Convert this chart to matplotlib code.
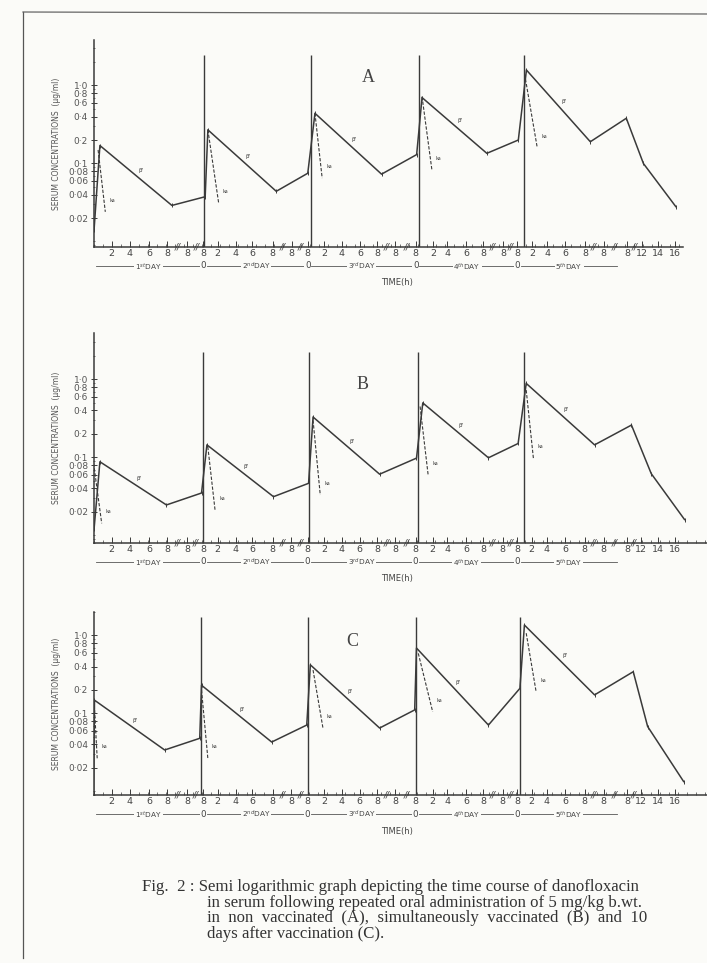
import matplotlib
matplotlib.use("Agg")
import matplotlib.pyplot as plt
import matplotlib.transforms as mtransforms
from matplotlib.ticker import FixedLocator, LogLocator, MultipleLocator, NullFormatter

# x values are positions on the broken time axis (about 11.7 units per dosing day)
x_A = [0.05, 0.7, 8.7, 12.4, 12.7, 20.3, 23.8, 24.6, 32.0, 35.9, 36.5, 43.7, 47.2, 48.1, 55.2, 59.2, 61.1, 64.7]
v_A = [0.014, 0.17, 0.029, 0.0375, 0.27, 0.044, 0.075, 0.44, 0.073, 0.13, 0.70, 0.135, 0.20, 1.58, 0.19, 0.38, 0.10, 0.028]

x_B = [0.05, 0.7, 8.1, 12.0, 12.6, 20.0, 23.9, 24.4, 31.8, 35.9, 36.6, 43.9, 47.2, 48.1, 55.7, 59.8, 62.0, 65.7]
v_B = [0.012, 0.088, 0.0246, 0.035, 0.145, 0.0314, 0.0466, 0.33, 0.061, 0.098, 0.50, 0.099, 0.151, 0.89, 0.145, 0.26, 0.062, 0.016]

x_C = [0.0, 0.1, 7.9, 11.8, 12.0, 19.8, 23.7, 24.1, 31.8, 35.7, 35.9, 43.9, 47.4, 47.9, 55.7, 60.0, 61.6, 65.6]
v_C = [0.0095, 0.148, 0.034, 0.048, 0.23, 0.043, 0.071, 0.42, 0.065, 0.111, 0.69, 0.071, 0.21, 1.36, 0.173, 0.343, 0.068, 0.0134]

# peak / trough indices of each elimination phase
peaks = [1, 4, 7, 10, 13]
troughs = [2, 5, 8, 11, 14]

# absorption (residual) lines, dashed
ka_A_x = [[0.5, 1.3], [12.7, 13.9], [24.6, 25.4], [36.5, 37.6], [47.9, 49.3]]
ka_A_v = [[0.149, 0.024], [0.27, 0.031], [0.44, 0.065], [0.72, 0.082], [1.4, 0.16]]
ka_B_x = [[0.0, 0.9], [12.7, 13.5], [24.4, 25.2], [36.3, 37.2], [48.1, 48.9]]
ka_B_v = [[0.084, 0.0143], [0.137, 0.0213], [0.30, 0.033], [0.45, 0.059], [0.73, 0.097]]
ka_C_x = [[0.05, 0.4], [12.0, 12.7], [24.4, 25.5], [36.1, 37.7], [48.1, 49.2]]
ka_C_v = [[0.148, 0.0266], [0.20, 0.0266], [0.36, 0.065], [0.59, 0.105], [1.07, 0.19]]

dose_A = [12.3, 24.2, 36.2, 47.8]
dose_B = [12.2, 24.0, 36.1, 47.9]
dose_C = [11.9, 23.8, 35.9, 47.4]

# time axis
tick_pos = [2.0, 4.0, 6.2, 8.2, 10.4, 12.2,
            13.8, 15.8, 17.6, 19.9, 22.0, 23.8,
            25.6, 27.6, 29.6, 31.5, 33.5, 35.8,
            37.7, 39.3, 41.4, 43.3, 45.5, 47.1,
            48.7, 50.4, 52.4, 54.6, 56.7, 59.3, 60.9, 62.7, 64.6]
tick_lab = ["2", "4", "6", "8", "8", "8",
            "2", "4", "6", "8", "8", "8",
            "2", "4", "6", "8", "8", "8",
            "2", "4", "6", "8", "8", "8",
            "2", "4", "6", "8", "8", "8", "12", "14", "16"]
breaks = [9.3, 11.4, 21.0, 23.0, 32.6, 34.8, 44.4, 46.4, 55.6, 57.9, 60.1]
day_start = [0.3, 12.6, 24.2, 36.2, 47.5]
day_end = [11.9, 23.5, 35.4, 46.8, 58.2]
day_lab = [r"1$^{st}$DAY", r"2$^{nd}$DAY", r"3$^{rd}$DAY", r"4$^{th}$DAY", r"5$^{th}$DAY"]
zero_pos = [12.2, 23.8, 35.8, 47.1]

y_ticks = [0.02, 0.04, 0.06, 0.08, 0.1, 0.2, 0.4, 0.6, 0.8, 1.0]
y_labs = ["0·02", "0·04", "0·06", "0·08", "0·1", "0·2", "0·4", "0·6", "0·8", "1·0"]

W, H = 707, 963
INK = "#3a3a3a"
PAPER = "#fbfbf8"

fig = plt.figure(figsize=(W / 100, H / 100), dpi=100, facecolor=PAPER)


def rect(x0, ytop, x1, ybot):
    return [x0 / W, 1 - ybot / H, (x1 - x0) / W, (ybot - ytop) / H]


panels = [
    ("A", x_A, v_A, ka_A_x, ka_A_v, dose_A, 2.45, rect(93.6, 40, 683, 247), (0.0085, 3.83), 65.5, (368, 78)),
    ("B", x_B, v_B, ka_B_x, ka_B_v, dose_B, 2.25, rect(93.6, 333, 707, 543), (0.0080, 3.94), 68.2, (363, 384)),
    ("C", x_C, v_C, ka_C_x, ka_C_v, dose_C, 1.75, rect(93.6, 612, 707, 795), (0.0090, 2.0), 68.2, (352, 641)),
]

for letter, xs, vs, kx, kv, doses, dtop, r, ylim, xmax, lpos in panels:
    ax = fig.add_axes(r)
    ax.set_facecolor("none")
    ax.set_yscale("log")
    ax.set_ylim(*ylim)
    ax.set_xlim(0, xmax)
    for s in ["top", "right"]:
        ax.spines[s].set_visible(False)
    for s in ["left", "bottom"]:
        ax.spines[s].set_color(INK)
        ax.spines[s].set_linewidth(1.1)

    ax.vlines(doses, ylim[0], dtop, color=INK, lw=1.0)
    ax.plot(xs, vs, color=INK, lw=1.1, marker="|", ms=3, mew=0.7)
    for ex, ev in zip(kx, kv):
        ax.plot(ex, ev, color=INK, lw=0.8, ls=(0, (3, 1.5)))
        ax.annotate("ka", (ex[1], ev[1]), textcoords="offset pixels", xytext=(4, 10),
                    fontsize=3.5, color=INK)
    for p, t in zip(peaks, troughs):
        xm = (xs[p] + xs[t]) / 2
        vm = (vs[p] * vs[t]) ** 0.5
        ax.annotate("β'", (xm, vm), textcoords="offset pixels", xytext=(3, 3),
                    fontsize=4, color=INK)

    ax.yaxis.set_major_locator(FixedLocator(y_ticks))
    ax.set_yticklabels(y_labs)
    ax.yaxis.set_minor_locator(LogLocator(subs="all"))
    ax.yaxis.set_minor_formatter(NullFormatter())
    ax.tick_params(axis="y", which="major", direction="inout", length=4, width=0.7,
                   labelsize=6.5, pad=2, colors=INK, labelcolor="#555555")
    ax.tick_params(axis="y", which="minor", direction="inout", length=2, width=0.5, colors=INK)

    ax.xaxis.set_major_locator(FixedLocator(tick_pos))
    ax.set_xticklabels(tick_lab)
    ax.xaxis.set_minor_locator(MultipleLocator(1))
    ax.tick_params(axis="x", which="major", direction="in", length=4, width=0.7,
                   labelsize=6.8, pad=1.5, colors=INK, labelcolor="#444444")
    ax.tick_params(axis="x", which="minor", direction="in", length=2, width=0.5, colors=INK)

    blend = mtransforms.blended_transform_factory(ax.transData, ax.transAxes)
    for b in breaks:
        ax.text(b, 0, "//", transform=blend, ha="center", va="center", fontsize=6.5,
                color=INK, style="italic")

    row = mtransforms.offset_copy(blend, fig=fig, y=-19, units="dots")
    for x0, x1, lab in zip(day_start, day_end, day_lab):
        ax.plot([x0, x1], [0, 0], transform=row, color="#555555", lw=0.6, clip_on=False)
        ax.text((x0 + x1) / 2, 0, lab, transform=row, ha="center", va="center",
                fontsize=5.3, color="#444444",
                bbox=dict(boxstyle="square,pad=0.1", fc=PAPER, ec="none"))
    for z in zero_pos:
        ax.text(z, 0, "0", transform=row, ha="center", va="center", fontsize=6.3,
                color="#444444", bbox=dict(boxstyle="square,pad=0.1", fc=PAPER, ec="none"))

    ax.annotate("TIME(h)", (33.7, 0), xycoords=blend, textcoords="offset pixels",
                xytext=(0, -36), ha="center", va="center", fontsize=6, color="#444444")
    ax.set_ylabel("SERUM CONCENTRATIONS  (µg/ml)", fontsize=5.5, color="#555555", labelpad=5)

    fig.text(lpos[0] / W, 1 - lpos[1] / H, letter, fontsize=13, family="Liberation Serif",
             color="#444444", ha="center", va="center")

caption_first = "Fig.  2 : Semi logarithmic graph depicting the time course of danofloxacin"
caption_rest = [
    "in serum following repeated oral administration of 5 mg/kg b.wt.",
    "in  non  vaccinated  (A),  simultaneously  vaccinated  (B)  and  10",
    "days after vaccination (C).",
]
fig.text(142 / W, 1 - 887 / H, caption_first, fontsize=12.1, family="Liberation Serif",
         color="#333333", ha="left", va="center")
fig.text(207 / W, 1 - 895 / H, "\n".join(caption_rest), fontsize=12.1,
         family="Liberation Serif", color="#333333", ha="left", va="top", linespacing=0.94)

# scanned page edge
fig.add_artist(plt.Line2D([23 / W, 23 / W], [1 - 12 / H, 0.005], color="#555555", lw=0.9))
fig.add_artist(plt.Line2D([23 / W, 1.0], [1 - 12 / H, 1 - 14 / H], color="#666666", lw=0.9))

fig.savefig("out.png", dpi=100, facecolor=PAPER)
